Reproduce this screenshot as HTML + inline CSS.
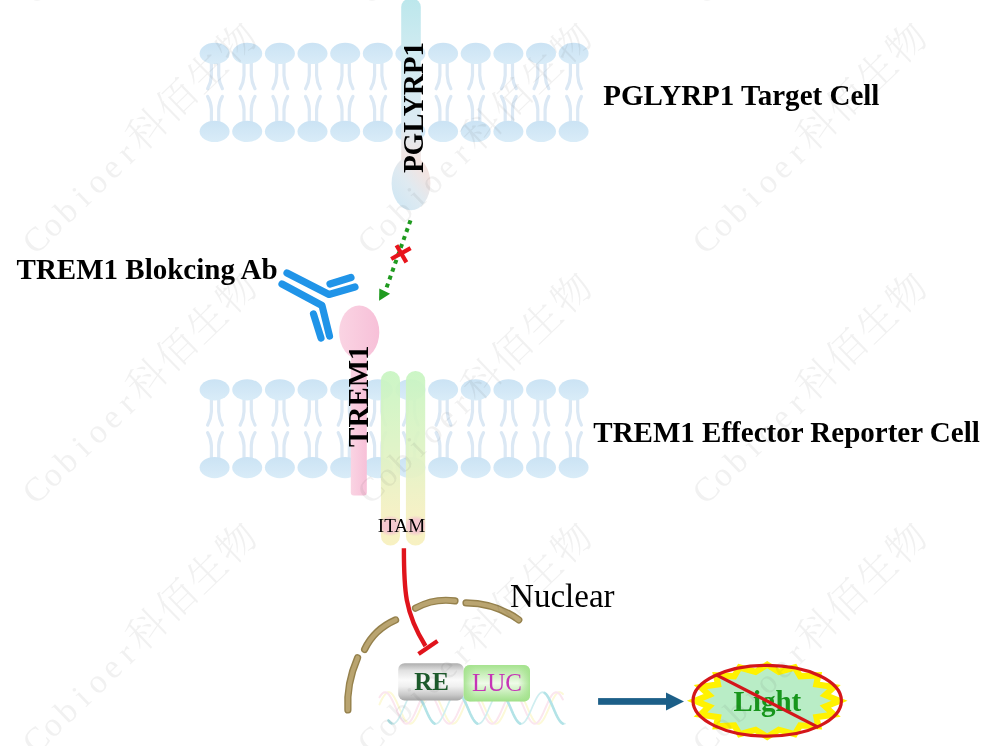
<!DOCTYPE html>
<html><head><meta charset="utf-8"><title>TREM1 Blocking Reporter Assay</title>
<style>
html,body{margin:0;padding:0;background:#fff;}
body{width:1007px;height:746px;overflow:hidden;}
svg{display:block;will-change:transform;}
.b{font-family:"Liberation Serif","Noto Serif CJK SC",serif;font-weight:bold;fill:#000;}
.r{font-family:"Liberation Serif","Noto Serif CJK SC",serif;fill:#000;}
.wm{font-family:"Liberation Serif","Noto Serif CJK SC",serif;font-weight:300;font-size:39px;fill:#444;fill-opacity:0.075;text-anchor:middle;}
</style></head><body>
<svg width="1007" height="746" viewBox="0 0 1007 746">
<defs>
<linearGradient id="gPg" x1="0" y1="0" x2="0" y2="1"><stop offset="0" stop-color="#bce7ec"/><stop offset="0.3" stop-color="#d0ebf1"/><stop offset="0.7" stop-color="#dbeaf2"/><stop offset="0.88" stop-color="#efe5e4"/><stop offset="1" stop-color="#f3e3df"/></linearGradient>
<linearGradient id="gPgE" x1="0.1" y1="0.95" x2="0.9" y2="0.05"><stop offset="0" stop-color="#cfe7f4"/><stop offset="0.45" stop-color="#dfeaf1"/><stop offset="0.8" stop-color="#f1e4e2"/><stop offset="1" stop-color="#f5e2dd"/></linearGradient>
<linearGradient id="gTr" x1="0" y1="0" x2="1" y2="0"><stop offset="0" stop-color="#fad4e3"/><stop offset="1" stop-color="#f7c0d8"/></linearGradient>
<linearGradient id="gBar" x1="0" y1="0" x2="0" y2="1"><stop offset="0" stop-color="#c8f5c2"/><stop offset="0.45" stop-color="#def3c4"/><stop offset="0.8" stop-color="#f4f0c2"/><stop offset="1" stop-color="#f7f0bd"/></linearGradient>
<linearGradient id="gRE" x1="0" y1="0" x2="0" y2="1"><stop offset="0" stop-color="#adadad"/><stop offset="0.2" stop-color="#e2e2e2"/><stop offset="0.45" stop-color="#fafafa"/><stop offset="0.62" stop-color="#f0f0f0"/><stop offset="0.85" stop-color="#c9c9c9"/><stop offset="1" stop-color="#a6a6a6"/></linearGradient>
<linearGradient id="gLUC" x1="0" y1="0" x2="0" y2="1"><stop offset="0" stop-color="#a6e38f"/><stop offset="0.5" stop-color="#effbe9"/><stop offset="1" stop-color="#9fe088"/></linearGradient>
<linearGradient id="gLUCh" x1="0" y1="0" x2="1" y2="0"><stop offset="0" stop-color="#a2e28b" stop-opacity="0.9"/><stop offset="0.18" stop-color="#a2e28b" stop-opacity="0"/><stop offset="0.82" stop-color="#a2e28b" stop-opacity="0"/><stop offset="1" stop-color="#a2e28b" stop-opacity="0.9"/></linearGradient>
<clipPath id="cpBars"><rect x="380.9" y="371" width="19.1" height="174.6" rx="9.5"/><rect x="405.9" y="371" width="19.3" height="174.6" rx="9.5"/></clipPath>
<radialGradient id="gPink"><stop offset="0" stop-color="#f4c4d0" stop-opacity="1"/><stop offset="0.62" stop-color="#f4c4d0" stop-opacity="0.95"/><stop offset="1" stop-color="#f4c4d0" stop-opacity="0"/></radialGradient>
<linearGradient id="gHead" x1="0" y1="0" x2="0" y2="1"><stop offset="0" stop-color="#cbe3f4"/><stop offset="1" stop-color="#d9ecf8"/></linearGradient>
<g id="lipT"><path d="M-3.2 8 L-3.2 22 Q-3.5 29 -7 35.3 M4.1 8 L4.1 22 Q4.4 29 7.8 35.3" fill="none" stroke="#dbe8f4" stroke-width="3.2" stroke-linecap="round"/><ellipse cx="0" cy="0" rx="15" ry="10.6" fill="url(#gHead)"/></g>
<g id="lipB"><path d="M-3.2 -8 L-3.2 -22 Q-3.5 -29 -7 -35 M4.1 -8 L4.1 -22 Q4.4 -29 7.8 -35" fill="none" stroke="#dbe8f4" stroke-width="3.2" stroke-linecap="round"/><ellipse cx="0" cy="0" rx="15" ry="10.6" fill="url(#gHead)"/></g>
</defs>
<rect width="1007" height="746" fill="#fff"/>

<g id="mem1">
<use href="#lipT" x="214.6" y="53.4"/><use href="#lipB" x="214.6" y="131.4"/>
<use href="#lipT" x="247.2" y="53.4"/><use href="#lipB" x="247.2" y="131.4"/>
<use href="#lipT" x="279.9" y="53.4"/><use href="#lipB" x="279.9" y="131.4"/>
<use href="#lipT" x="312.5" y="53.4"/><use href="#lipB" x="312.5" y="131.4"/>
<use href="#lipT" x="345.2" y="53.4"/><use href="#lipB" x="345.2" y="131.4"/>
<use href="#lipT" x="377.8" y="53.4"/><use href="#lipB" x="377.8" y="131.4"/>
<use href="#lipT" x="410.4" y="53.4"/><use href="#lipB" x="410.4" y="131.4"/>
<use href="#lipT" x="443.1" y="53.4"/><use href="#lipB" x="443.1" y="131.4"/>
<use href="#lipT" x="475.7" y="53.4"/><use href="#lipB" x="475.7" y="131.4"/>
<use href="#lipT" x="508.4" y="53.4"/><use href="#lipB" x="508.4" y="131.4"/>
<use href="#lipT" x="541.0" y="53.4"/><use href="#lipB" x="541.0" y="131.4"/>
<use href="#lipT" x="573.6" y="53.4"/><use href="#lipB" x="573.6" y="131.4"/>
</g><g id="mem2">
<use href="#lipT" x="214.6" y="389.8"/><use href="#lipB" x="214.6" y="467.6"/>
<use href="#lipT" x="247.2" y="389.8"/><use href="#lipB" x="247.2" y="467.6"/>
<use href="#lipT" x="279.9" y="389.8"/><use href="#lipB" x="279.9" y="467.6"/>
<use href="#lipT" x="312.5" y="389.8"/><use href="#lipB" x="312.5" y="467.6"/>
<use href="#lipT" x="345.2" y="389.8"/><use href="#lipB" x="345.2" y="467.6"/>
<use href="#lipT" x="377.8" y="389.8"/><use href="#lipB" x="377.8" y="467.6"/>
<use href="#lipT" x="410.4" y="389.8"/><use href="#lipB" x="410.4" y="467.6"/>
<use href="#lipT" x="443.1" y="389.8"/><use href="#lipB" x="443.1" y="467.6"/>
<use href="#lipT" x="475.7" y="389.8"/><use href="#lipB" x="475.7" y="467.6"/>
<use href="#lipT" x="508.4" y="389.8"/><use href="#lipB" x="508.4" y="467.6"/>
<use href="#lipT" x="541.0" y="389.8"/><use href="#lipB" x="541.0" y="467.6"/>
<use href="#lipT" x="573.6" y="389.8"/><use href="#lipB" x="573.6" y="467.6"/>
</g>
<g id="pglyrp1">
<rect x="401.2" y="-1" width="19.6" height="176" rx="8" fill="url(#gPg)"/>
<ellipse cx="411" cy="183.2" rx="19.4" ry="27" fill="url(#gPgE)"/>
<text class="b" font-size="29" transform="translate(422.5,173.1) rotate(-90)" textLength="131" lengthAdjust="spacingAndGlyphs">PGLYRP1</text>
</g>
<g id="arrow1">
<line x1="410.5" y1="220.3" x2="386.4" y2="288" stroke="#1f9a1f" stroke-width="4" stroke-dasharray="4 4.4"/>
<polygon points="379.1,300.8 379.3,288.4 390.1,293.8" fill="#1f9a1f"/>
<path d="M391.2 259 L410.6 248.1 M396.5 245.3 L406.4 262.4" stroke="#e8141c" stroke-width="4.2" fill="none"/>
</g>
<g id="ab" fill="none" stroke="#2094e8" stroke-width="7.2" stroke-linecap="round" stroke-linejoin="round">
<path d="M287 273 L329 294.5 L355 287"/>
<path d="M282 284 L322 305.5 L329.5 336"/>
<path d="M330 284 L351 277.5"/>
<path d="M313.5 314 L321 338"/>
</g>
<g id="trem1">
<rect x="350.8" y="335" width="16" height="160.5" rx="3" fill="url(#gTr)"/>
<ellipse cx="359.2" cy="332.2" rx="20.1" ry="26.8" fill="url(#gTr)"/>
<text class="b" font-size="29" transform="translate(367.6,446.9) rotate(-90)">TREM1</text>
</g>
<g id="bars" fill-opacity="0.93">
<rect x="380.9" y="371" width="19.1" height="174.6" rx="9.5" fill="url(#gBar)"/>
<rect x="405.9" y="371" width="19.3" height="174.6" rx="9.5" fill="url(#gBar)"/>
<g clip-path="url(#cpBars)"><ellipse cx="390.4" cy="525.8" rx="13" ry="10.5" fill="url(#gPink)"/>
<ellipse cx="415.5" cy="525.8" rx="13" ry="10.5" fill="url(#gPink)"/></g>
<text class="r" font-size="18.6" x="377.8" y="532" fill-opacity="1" textLength="47.4" lengthAdjust="spacingAndGlyphs">ITAM</text>
</g>
<g id="inhib" fill="none" stroke="#e0141c" stroke-width="4.4">
<path d="M403.9 548.3 C403.9 590 404.5 612 425.5 646"/>
<path d="M418.5 654 L437.5 641"/>
</g>
<g id="nuc" fill="none" stroke-linecap="round">
<path d="M347.9 710 Q346.3 684 357.6 657.8" stroke="#95814c" stroke-width="7.2"/>
<path d="M364.6 649.4 Q374 629.5 395.6 619.9" stroke="#95814c" stroke-width="7.2"/>
<path d="M415.5 608.2 Q434 598 455 600.9" stroke="#95814c" stroke-width="7.2"/>
<path d="M466 602.9 Q496 603.3 518.8 619.9" stroke="#95814c" stroke-width="7.2"/>
<path d="M347.9 710 Q346.3 684 357.6 657.8" stroke="#b9a470" stroke-width="4.4"/>
<path d="M364.6 649.4 Q374 629.5 395.6 619.9" stroke="#b9a470" stroke-width="4.4"/>
<path d="M415.5 608.2 Q434 598 455 600.9" stroke="#b9a470" stroke-width="4.4"/>
<path d="M466 602.9 Q496 603.3 518.8 619.9" stroke="#b9a470" stroke-width="4.4"/>
</g>
<text class="r" font-size="33" x="510.1" y="607.4">Nuclear</text>
<g id="dna" fill="none" stroke-linecap="round">
<path d="M379.5 704.4 L380.9 701.3 L382.3 698.5 L383.7 696.2 L385.1 694.3 L386.5 693.0 L387.9 692.3 L389.3 692.3 L390.7 692.9 L392.1 694.2 L393.5 696.1 L394.9 698.5 L396.3 701.2 L397.7 704.3 L399.1 707.5 L400.5 710.7 L401.9 713.9 L403.3 716.7 L404.7 719.2 L406.1 721.3 L407.5 722.7 L408.9 723.6 L410.3 723.8 L411.7 723.3 L413.1 722.2 L414.5 720.5 L415.9 718.2 L417.3 715.5 L418.7 712.6 L420.1 709.4 L421.5 706.1 L422.9 703.0 L424.3 700.0 L425.7 697.4 L427.1 695.2 L428.5 693.6 L429.9 692.6 L431.3 692.2 L432.7 692.5 L434.1 693.5 L435.5 695.0 L436.9 697.1 L438.3 699.7 L439.7 702.6 L441.1 705.8 L442.5 709.0 L443.9 712.2 L445.3 715.2 L446.7 718.0 L448.1 720.3 L449.5 722.0 L450.9 723.2 L452.3 723.8 L453.7 723.6 L455.1 722.9 L456.5 721.5 L457.9 719.5 L459.3 717.0 L460.7 714.2 L462.1 711.1 L463.5 707.9 L464.9 704.6 L466.3 701.5 L467.7 698.7 L469.1 696.3 L470.5 694.4 L471.9 693.0 L473.3 692.3 L474.7 692.3 L476.1 692.9 L477.5 694.1 L478.9 695.9 L480.3 698.3 L481.7 701.0 L483.1 704.1 L484.5 707.3 L485.9 710.5 L487.3 713.6 L488.7 716.5 L490.1 719.1 L491.5 721.1 L492.9 722.7 L494.3 723.6 L495.7 723.8 L497.1 723.4 L498.5 722.3 L499.9 720.6 L501.3 718.4 L502.7 715.7 L504.1 712.8 L505.5 709.6 L506.9 706.3 L508.3 703.2 L509.7 700.2 L511.1 697.6 L512.5 695.4 L513.9 693.7 L515.3 692.6 L516.7 692.2 L518.1 692.5 L519.5 693.4 L520.9 694.9 L522.3 697.0 L523.7 699.5 L525.1 702.4 L526.5 705.5 L527.9 708.8 L529.3 712.0 L530.7 715.0 L532.1 717.8 L533.5 720.1 L534.9 721.9 L536.3 723.2 L537.7 723.7 L539.1 723.7 L540.5 722.9 L541.9 721.6 L543.3 719.6 L544.7 717.2 L546.1 714.4 L547.5 711.3 L548.9 708.1 L550.3 704.9 L551.7 701.8 L553.1 698.9 L554.5 696.5 L555.9 694.5 L557.3 693.1 L558.7 692.3 L560.1 692.2 L561.5 692.8 L562.9 694.0" stroke="#fcf9d8" stroke-width="2"/>
<path d="M379.5 697.3 L380.9 695.1 L382.3 693.5 L383.7 692.5 L385.1 692.2 L386.5 692.5 L387.9 693.5 L389.3 695.1 L390.7 697.2 L392.1 699.8 L393.5 702.7 L394.9 705.9 L396.3 709.1 L397.7 712.3 L399.1 715.3 L400.5 718.0 L401.9 720.3 L403.3 722.1 L404.7 723.3 L406.1 723.8 L407.5 723.6 L408.9 722.8 L410.3 721.4 L411.7 719.4 L413.1 716.9 L414.5 714.1 L415.9 711.0 L417.3 707.7 L418.7 704.5 L420.1 701.4 L421.5 698.6 L422.9 696.2 L424.3 694.3 L425.7 693.0 L427.1 692.3 L428.5 692.3 L429.9 692.9 L431.3 694.2 L432.7 696.0 L434.1 698.4 L435.5 701.1 L436.9 704.2 L438.3 707.4 L439.7 710.6 L441.1 713.8 L442.5 716.6 L443.9 719.2 L445.3 721.2 L446.7 722.7 L448.1 723.6 L449.5 723.8 L450.9 723.3 L452.3 722.2 L453.7 720.5 L455.1 718.3 L456.5 715.6 L457.9 712.7 L459.3 709.5 L460.7 706.2 L462.1 703.1 L463.5 700.1 L464.9 697.5 L466.3 695.3 L467.7 693.6 L469.1 692.6 L470.5 692.2 L471.9 692.5 L473.3 693.4 L474.7 695.0 L476.1 697.0 L477.5 699.6 L478.9 702.5 L480.3 705.7 L481.7 708.9 L483.1 712.1 L484.5 715.1 L485.9 717.9 L487.3 720.2 L488.7 722.0 L490.1 723.2 L491.5 723.8 L492.9 723.7 L494.3 722.9 L495.7 721.5 L497.1 719.6 L498.5 717.1 L499.9 714.3 L501.3 711.2 L502.7 708.0 L504.1 704.7 L505.5 701.7 L506.9 698.8 L508.3 696.4 L509.7 694.4 L511.1 693.1 L512.5 692.3 L513.9 692.2 L515.3 692.8 L516.7 694.0 L518.1 695.9 L519.5 698.2 L520.9 700.9 L522.3 704.0 L523.7 707.2 L525.1 710.4 L526.5 713.5 L527.9 716.4 L529.3 719.0 L530.7 721.1 L532.1 722.6 L533.5 723.5 L534.9 723.8 L536.3 723.4 L537.7 722.3 L539.1 720.7 L540.5 718.5 L541.9 715.8 L543.3 712.9 L544.7 709.7 L546.1 706.5 L547.5 703.3 L548.9 700.3 L550.3 697.6 L551.7 695.4 L553.1 693.7 L554.5 692.6 L555.9 692.2 L557.3 692.4 L558.7 693.3 L560.1 694.8 L561.5 696.9 L562.9 699.4" stroke="#fbe6ef" stroke-width="2"/>
<path d="M388.5 720.5 L389.9 722.2 L391.3 723.3 L392.7 723.8 L394.1 723.6 L395.5 722.7 L396.9 721.3 L398.3 719.2 L399.7 716.7 L401.1 713.9 L402.5 710.7 L403.9 707.5 L405.3 704.3 L406.7 701.2 L408.1 698.5 L409.5 696.1 L410.9 694.2 L412.3 692.9 L413.7 692.3 L415.1 692.3 L416.5 693.0 L417.9 694.3 L419.3 696.2 L420.7 698.5 L422.1 701.3 L423.5 704.4 L424.9 707.6 L426.3 710.9 L427.7 714.0 L429.1 716.8 L430.5 719.3 L431.9 721.3 L433.3 722.8 L434.7 723.6 L436.1 723.8 L437.5 723.3 L438.9 722.1 L440.3 720.4 L441.7 718.1 L443.1 715.4 L444.5 712.4 L445.9 709.2 L447.3 706.0 L448.7 702.8 L450.1 699.9 L451.5 697.3 L452.9 695.1 L454.3 693.5 L455.7 692.5 L457.1 692.2 L458.5 692.5 L459.9 693.5 L461.3 695.1 L462.7 697.2 L464.1 699.8 L465.5 702.7 L466.9 705.9 L468.3 709.1 L469.7 712.3 L471.1 715.3 L472.5 718.0 L473.9 720.3 L475.3 722.1 L476.7 723.3 L478.1 723.8 L479.5 723.6 L480.9 722.8 L482.3 721.4 L483.7 719.4 L485.1 716.9 L486.5 714.1 L487.9 711.0 L489.3 707.7 L490.7 704.5 L492.1 701.4 L493.5 698.6 L494.9 696.2 L496.3 694.3 L497.7 693.0 L499.1 692.3 L500.5 692.3 L501.9 692.9 L503.3 694.2 L504.7 696.0 L506.1 698.4 L507.5 701.1 L508.9 704.2 L510.3 707.4 L511.7 710.6 L513.1 713.8 L514.5 716.6 L515.9 719.2 L517.3 721.2 L518.7 722.7 L520.1 723.6 L521.5 723.8 L522.9 723.3 L524.3 722.2 L525.7 720.5 L527.1 718.3 L528.5 715.6 L529.9 712.7 L531.3 709.5 L532.7 706.2 L534.1 703.1 L535.5 700.1 L536.9 697.5 L538.3 695.3 L539.7 693.6 L541.1 692.6 L542.5 692.2 L543.9 692.5 L545.3 693.4 L546.7 695.0 L548.1 697.0 L549.5 699.6 L550.9 702.5 L552.3 705.7 L553.7 708.9 L555.1 712.1 L556.5 715.1 L557.9 717.9 L559.3 720.2 L560.7 722.0 L562.1 723.2 L563.5 723.8 L564.9 723.7" stroke="#d0eef0" stroke-width="1.7"/>
<path d="M388.5 720.5 L389.9 722.2 L391.3 723.3" stroke="#b3e3e7" stroke-width="2.6"/>
<path d="M416.4 692.9 L417.8 694.1 L419.2 696.0 L420.6 698.3 L422.0 701.1 L423.4 704.1 L424.8 707.3 L426.2 710.6 L427.6 713.7 L429.0 716.6 L430.4 719.1 L431.8 721.2 L433.2 722.7 L434.6 723.6" stroke="#b3e3e7" stroke-width="2.6"/>
<path d="M459.1 692.9 L460.5 694.1 L461.9 696.0 L463.3 698.3 L464.7 701.1 L466.1 704.1 L467.5 707.3 L468.9 710.6 L470.3 713.7 L471.7 716.6 L473.1 719.1 L474.5 721.2 L475.9 722.7 L477.3 723.6" stroke="#b3e3e7" stroke-width="2.6"/>
<path d="M501.9 692.9 L503.3 694.1 L504.7 696.0 L506.1 698.3 L507.5 701.1 L508.9 704.1 L510.3 707.3 L511.7 710.6 L513.1 713.7 L514.5 716.6 L515.9 719.1 L517.3 721.2 L518.7 722.7 L520.1 723.6" stroke="#b3e3e7" stroke-width="2.6"/>
<path d="M544.6 692.9 L546.0 694.1 L547.4 696.0 L548.8 698.3 L550.2 701.1 L551.6 704.1 L553.0 707.3 L554.4 710.6 L555.8 713.7 L557.2 716.6 L558.6 719.1 L560.0 721.2 L561.4 722.7 L562.8 723.6" stroke="#b3e3e7" stroke-width="2.6"/>
</g>
<g id="boxes">
<rect x="398.2" y="663.2" width="65.6" height="37.2" rx="6.5" fill="url(#gRE)"/>
<rect x="463.7" y="665.1" width="66.3" height="36.4" rx="6" fill="url(#gLUC)"/><rect x="463.7" y="665.1" width="66.3" height="36.4" rx="6" fill="url(#gLUCh)"/>
<text class="b" font-size="25" x="414.2" y="690" style="fill:#1c5a2b">RE</text>
<text class="r" font-size="25" x="472" y="691.4" style="fill:#c535b6">LUC</text>
</g>
<g id="arrow2"><rect x="598.1" y="698.1" width="69" height="6.7" fill="#1c5f88"/><polygon points="666,692.4 684,701.45 666,710.5" fill="#1c5f88"/></g>
<g id="light">
<polygon points="839.4,700.8 825.3,706.6 833.9,714.6 816.4,717.2 818.3,726.3 800.1,725.4 794.8,734.2 778.8,729.8 767.2,736.9 755.6,729.8 739.6,734.2 734.3,725.4 716.1,726.3 718.0,717.2 700.5,714.6 709.1,706.6 695.0,700.8 709.1,695.0 700.5,687.0 718.0,684.4 716.1,675.3 734.3,676.2 739.6,667.4 755.6,671.8 767.2,664.7 778.8,671.8 794.8,667.4 800.1,676.2 818.3,675.3 816.4,684.4 833.9,687.0 825.3,695.0" fill="#b9edc6" stroke="#fff200" stroke-width="6.2" stroke-linejoin="miter" stroke-miterlimit="10"/>
<text class="b" font-size="29" x="733.6" y="710.8" style="fill:#17961c">Light</text>
<ellipse cx="767.2" cy="700.8" rx="74.2" ry="35.4" fill="none" stroke="#d4161a" stroke-width="3.2"/>
<line x1="716.2" y1="674.9" x2="818.4" y2="727.3" stroke="#d4161a" stroke-width="3.2"/>
</g>
<g id="labels">
<text class="b" font-size="29" x="603.2" y="104.9" textLength="276.2" lengthAdjust="spacingAndGlyphs">PGLYRP1 Target Cell</text>
<text class="b" font-size="29" x="593.3" y="441.6" textLength="386.5" lengthAdjust="spacingAndGlyphs">TREM1 Effector Reporter Cell</text>
<text class="b" font-size="29" x="16.6" y="279.3" textLength="261" lengthAdjust="spacingAndGlyphs">TREM1 Blokcing Ab</text>
</g>
<g id="wm">
<text class="wm" transform="translate(36.5,5) rotate(-44)" x="10.4 31.2 52.0 72.8 93.6 114.4 135.2 166.4 208.0 249.6 291.2" y="0"><tspan font-size="34">Cobioer</tspan>科佰生物</text>
<text class="wm" transform="translate(371.5,5) rotate(-44)" x="10.4 31.2 52.0 72.8 93.6 114.4 135.2 166.4 208.0 249.6 291.2" y="0"><tspan font-size="34">Cobioer</tspan>科佰生物</text>
<text class="wm" transform="translate(706.5,5) rotate(-44)" x="10.4 31.2 52.0 72.8 93.6 114.4 135.2 166.4 208.0 249.6 291.2" y="0"><tspan font-size="34">Cobioer</tspan>科佰生物</text>
<text class="wm" transform="translate(36.5,255) rotate(-44)" x="10.4 31.2 52.0 72.8 93.6 114.4 135.2 166.4 208.0 249.6 291.2" y="0"><tspan font-size="34">Cobioer</tspan>科佰生物</text>
<text class="wm" transform="translate(371.5,255) rotate(-44)" x="10.4 31.2 52.0 72.8 93.6 114.4 135.2 166.4 208.0 249.6 291.2" y="0"><tspan font-size="34">Cobioer</tspan>科佰生物</text>
<text class="wm" transform="translate(706.5,255) rotate(-44)" x="10.4 31.2 52.0 72.8 93.6 114.4 135.2 166.4 208.0 249.6 291.2" y="0"><tspan font-size="34">Cobioer</tspan>科佰生物</text>
<text class="wm" transform="translate(36.5,505) rotate(-44)" x="10.4 31.2 52.0 72.8 93.6 114.4 135.2 166.4 208.0 249.6 291.2" y="0"><tspan font-size="34">Cobioer</tspan>科佰生物</text>
<text class="wm" transform="translate(371.5,505) rotate(-44)" x="10.4 31.2 52.0 72.8 93.6 114.4 135.2 166.4 208.0 249.6 291.2" y="0"><tspan font-size="34">Cobioer</tspan>科佰生物</text>
<text class="wm" transform="translate(706.5,505) rotate(-44)" x="10.4 31.2 52.0 72.8 93.6 114.4 135.2 166.4 208.0 249.6 291.2" y="0"><tspan font-size="34">Cobioer</tspan>科佰生物</text>
<text class="wm" transform="translate(36.5,755) rotate(-44)" x="10.4 31.2 52.0 72.8 93.6 114.4 135.2 166.4 208.0 249.6 291.2" y="0"><tspan font-size="34">Cobioer</tspan>科佰生物</text>
<text class="wm" transform="translate(371.5,755) rotate(-44)" x="10.4 31.2 52.0 72.8 93.6 114.4 135.2 166.4 208.0 249.6 291.2" y="0"><tspan font-size="34">Cobioer</tspan>科佰生物</text>
<text class="wm" transform="translate(706.5,755) rotate(-44)" x="10.4 31.2 52.0 72.8 93.6 114.4 135.2 166.4 208.0 249.6 291.2" y="0"><tspan font-size="34">Cobioer</tspan>科佰生物</text>
</g>
</svg></body></html>
